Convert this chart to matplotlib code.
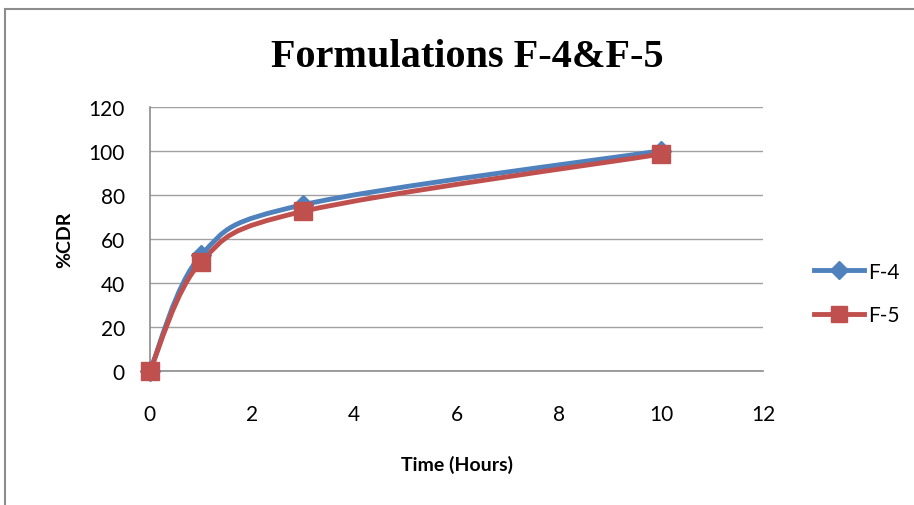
import numpy as np
import matplotlib.pyplot as plt
from matplotlib.path import Path
from matplotlib.patches import PathPatch, Rectangle
from matplotlib.lines import Line2D

# data
time_h = [0, 1, 3, 10]
f4 = [0, 52.5, 75.5, 100]
f5 = [0, 49.5, 72.5, 98.5]

blue = '#4F81BD'
red = '#C0504D'


def smooth_path(x, y):
    # excel style smoothed line: bezier segments through the points
    pts = np.column_stack([x, y]).astype(float)
    p = np.vstack([pts[0], pts, pts[-1]])
    verts = [pts[0]]
    codes = [Path.MOVETO]
    for i in range(1, len(p) - 2):
        c1 = p[i] + (p[i + 1] - p[i - 1]) / 6
        c2 = p[i + 1] - (p[i + 2] - p[i]) / 6
        verts += [c1, c2, p[i + 1]]
        codes += [Path.CURVE4] * 3
    return Path(verts, codes)


fig = plt.figure(figsize=(9.14, 5.06), dpi=100)
ax = fig.add_axes([0.164, 0.265, 0.671, 0.522])

for ys, col, mk, ms in [(f4, blue, 'D', 10.5), (f5, red, 's', 13)]:
    ax.add_patch(PathPatch(smooth_path(time_h, ys), facecolor='none',
                           edgecolor=col, lw=3.5, capstyle='round', zorder=3))
    ax.plot(time_h, ys, ls='none', marker=mk, ms=ms, color=col, zorder=4, clip_on=False)

ax.set_xlim(0, 12)
ax.set_ylim(0, 120)
ax.set_xticks(range(0, 13, 2))
ax.set_yticks(range(0, 121, 20))
ax.grid(axis='y', color='#a0a0a0', lw=1)
ax.set_axisbelow(True)
for s in ['top', 'right']:
    ax.spines[s].set_visible(False)
for s in ['left', 'bottom']:
    ax.spines[s].set_color('#8c8c8c')
    ax.spines[s].set_linewidth(1.2)
ax.tick_params(length=0, labelsize=15)
ax.tick_params(axis='x', pad=24)
ax.tick_params(axis='y', pad=18)
for lab in ax.get_xticklabels() + ax.get_yticklabels():
    lab.set_family('Lato')

ax.set_xlabel('Time (Hours)', family='Lato', fontweight='bold', fontsize=14, labelpad=22)
ax.set_ylabel('%CDR', family='Lato', fontweight='bold', fontsize=14, labelpad=11)
fig.text(0.511, 0.886, 'Formulations F-4&F-5', family='Liberation Serif',
         fontweight='bold', fontsize=29, ha='center', va='center')

handles = [Line2D([], [], color=blue, lw=3.5, marker='D', ms=9.5),
           Line2D([], [], color=red, lw=3.5, marker='s', ms=12)]
fig.legend(handles, ['F-4', 'F-5'], loc='center left', bbox_to_anchor=(0.87, 0.418),
           frameon=False, prop={'family': 'Lato', 'size': 15},
           handlelength=2.4, handletextpad=0.2, labelspacing=1.15)

fig.patches.append(Rectangle((5 / 914, -0.5), 2, 1.5 - 10 / 506, transform=fig.transFigure,
                             fill=False, edgecolor='#8c8c8c', lw=1.5))

fig.savefig('out.png', dpi=100)
